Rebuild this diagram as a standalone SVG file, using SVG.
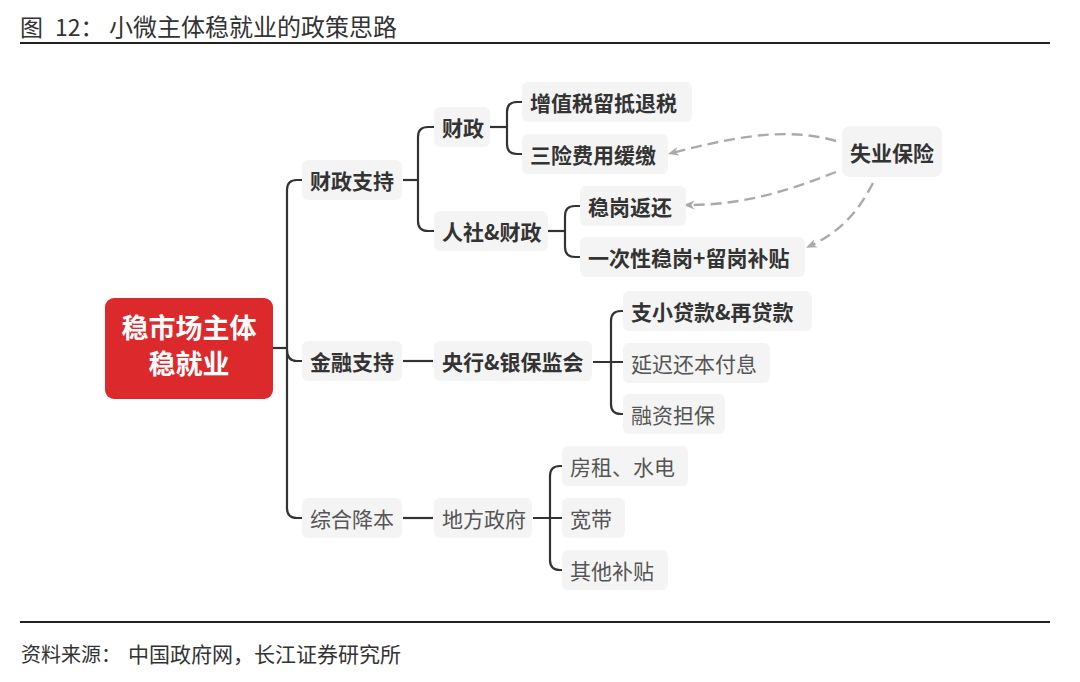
<svg xmlns="http://www.w3.org/2000/svg" width="1080" height="682" viewBox="0 0 1080 682">
<defs>
<style>
.t{font-family:"Noto Sans CJK SC","Noto Sans",sans-serif;fill:#333;}
.n{font-family:"Noto Sans CJK SC","Noto Sans",sans-serif;font-size:21px;fill:#333;dominant-baseline:central;}
.b{font-weight:bold;}
.r{font-weight:normal;fill:#555;}
.box{fill:#f4f4f4;}
.ln{fill:none;stroke:#333;stroke-width:2.2;}
.ds{fill:none;stroke:#aaa;stroke-width:2.4;stroke-dasharray:11 6;}
.rule{stroke:#222;stroke-width:2.2;}
.w{fill:#fff;font-weight:bold;font-size:27px;}
</style>
<marker id="ah" viewBox="0 0 10 10" refX="6" refY="5" markerWidth="11" markerHeight="11" orient="auto" markerUnits="userSpaceOnUse">
<path d="M0 1 L10 5 L0 9 L3 5 Z" fill="#aaa"/>
</marker>
</defs>
<rect width="1080" height="682" fill="#fff"/>

<g id="title">
<text class="t" y="36" font-size="23"><tspan x="20">图</tspan><tspan x="55">12：</tspan><tspan x="109" font-size="24">小微主体稳就业的政策思路</tspan></text>
<line class="rule" x1="20" y1="43" x2="1050" y2="43"/>
</g>

<g id="connectors">
<path class="ln" d="M273 348 H287"/>
<path class="ln" d="M303 180 H297 Q287 180 287 190 V508 Q287 518 297 518 H303"/>
<path class="ln" d="M287 350 Q287 361 297 361 H303"/>
<path class="ln" d="M403 180 H418"/>
<path class="ln" d="M436 127 H428 Q418 127 418 137 V221 Q418 231 428 231 H436"/>
<path class="ln" d="M489 127 H507"/>
<path class="ln" d="M524 102 H517 Q507 102 507 112 V144 Q507 154 517 154 H524"/>
<path class="ln" d="M548 231 H565"/>
<path class="ln" d="M582 206 H575 Q565 206 565 216 V247 Q565 257 575 257 H582"/>
<path class="ln" d="M403 361 H433"/>
<path class="ln" d="M593 362 H626"/>
<path class="ln" d="M626 311 H621 Q611 311 611 321 V404 Q611 414 621 414 H626"/>
<path class="ln" d="M403 518 H433"/>
<path class="ln" d="M533 518 H566"/>
<path class="ln" d="M566 466 H560 Q550 466 550 476 V560 Q550 570 560 570 H566"/>
<path class="ds" marker-end="url(#ah)" d="M836 141 C785 126 730 138 672 153"/>
<path class="ds" marker-end="url(#ah)" d="M836 172 C790 190 745 205 688 205"/>
<path class="ds" marker-end="url(#ah)" d="M873 183 C858 212 840 232 810 246"/>
</g>

<g id="root">
<rect x="105" y="298" width="168" height="101" rx="9" fill="#dc2a2c"/>
<text class="t w" x="189" y="338" text-anchor="middle">稳市场主体</text>
<text class="t w" x="189" y="374" text-anchor="middle">稳就业</text>
</g>

<g id="n-caizhengzhichi"><rect class="box" x="302" y="160" width="100" height="40" rx="6"/><text class="n b" x="310" y="180">财政支持</text></g>
<g id="n-caizheng"><rect class="box" x="434" y="107" width="56" height="40" rx="6"/><text class="n b" x="442" y="127">财政</text></g>
<g id="n-renshe"><rect class="box" x="434" y="211" width="114" height="40" rx="6"/><text class="n b" x="442" y="231">人社&amp;财政</text></g>
<g id="n-zengzhishui"><rect class="box" x="522" y="82" width="170" height="40" rx="6"/><text class="n b" x="530" y="102">增值税留抵退税</text></g>
<g id="n-sanxian"><rect class="box" x="522" y="134" width="146" height="40" rx="6"/><text class="n b" x="530" y="154">三险费用缓缴</text></g>
<g id="n-wengang"><rect class="box" x="580" y="186" width="106" height="40" rx="6"/><text class="n b" x="588" y="206">稳岗返还</text></g>
<g id="n-yicixing"><rect class="box" x="580" y="237" width="225" height="40" rx="6"/><text class="n b" x="588" y="257">一次性稳岗+留岗补贴</text></g>
<g id="n-shiye"><rect class="box" x="842" y="126" width="100" height="51" rx="8"/><text class="n b" x="892" y="152" text-anchor="middle" font-size="20">失业保险</text></g>
<g id="n-jinrong"><rect class="box" x="302" y="341" width="100" height="40" rx="6"/><text class="n b" x="310" y="361">金融支持</text></g>
<g id="n-yanghang"><rect class="box" x="434" y="341" width="158" height="40" rx="6"/><text class="n b" x="442" y="361">央行&amp;银保监会</text></g>
<g id="n-zhixiao"><rect class="box" x="623" y="291" width="189" height="40" rx="6"/><text class="n b" x="631" y="311">支小贷款&amp;再贷款</text></g>
<g id="n-yanchi"><rect class="box" x="623" y="343" width="147" height="40" rx="6"/><text class="n r" x="631" y="363">延迟还本付息</text></g>
<g id="n-rongzi"><rect class="box" x="623" y="394" width="102" height="40" rx="6"/><text class="n r" x="631" y="414">融资担保</text></g>
<g id="n-zonghe"><rect class="box" x="302" y="498" width="100" height="40" rx="6"/><text class="n r" x="310" y="518">综合降本</text></g>
<g id="n-difang"><rect class="box" x="434" y="498" width="98" height="40" rx="6"/><text class="n r" x="442" y="518">地方政府</text></g>
<g id="n-fangzu"><rect class="box" x="562" y="446" width="126" height="40" rx="6"/><text class="n r" x="570" y="466">房租、水电</text></g>
<g id="n-kuandai"><rect class="box" x="562" y="498" width="63" height="40" rx="6"/><text class="n r" x="570" y="518">宽带</text></g>
<g id="n-qita"><rect class="box" x="562" y="550" width="106" height="40" rx="6"/><text class="n r" x="570" y="570">其他补贴</text></g>

<g id="footer">
<line class="rule" x1="20" y1="622" x2="1050" y2="622"/>
<text class="t" y="662" font-size="20"><tspan x="21">资料来源：</tspan><tspan x="128" font-size="21">中国政府网，长江证券研究所</tspan></text>
</g>
</svg>
